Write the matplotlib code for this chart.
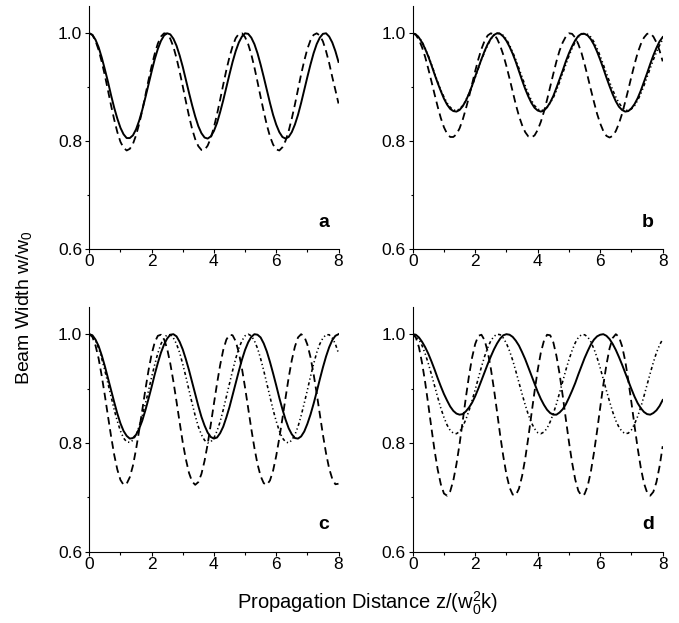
import matplotlib
matplotlib.use("Agg")
import matplotlib.pyplot as plt
from matplotlib.ticker import MultipleLocator, FormatStrFormatter

plt.rcParams['font.family'] = ['Liberation Sans', 'DejaVu Sans']
plt.rcParams['mathtext.fontset'] = 'custom'
plt.rcParams['mathtext.rm'] = 'Liberation Sans'

# propagation distance samples z/(w0^2 k)
z = [0.0, 0.1, 0.2, 0.3, 0.4, 0.5, 0.6, 0.7, 0.8, 0.9,
     1.0, 1.1, 1.2, 1.3, 1.4, 1.5, 1.6, 1.7, 1.8, 1.9,
     2.0, 2.1, 2.2, 2.3, 2.4, 2.5, 2.6, 2.7, 2.8, 2.9,
     3.0, 3.1, 3.2, 3.3, 3.4, 3.5, 3.6, 3.7, 3.8, 3.9,
     4.0, 4.1, 4.2, 4.3, 4.4, 4.5, 4.6, 4.7, 4.8, 4.9,
     5.0, 5.1, 5.2, 5.3, 5.4, 5.5, 5.6, 5.7, 5.8, 5.9,
     6.0, 6.1, 6.2, 6.3, 6.4, 6.5, 6.6, 6.7, 6.8, 6.9,
     7.0, 7.1, 7.2, 7.3, 7.4, 7.5, 7.6, 7.7, 7.8, 7.9,
     8.0]

# panel a
a_solid = [1.000, .997, .988, .974, .955, .933, .910, .885, .862, .842,
           .825, .813, .806, .806, .811, .822, .838, .858, .881, .905,
           .929, .952, .971, .986, .996, 1.000, .998, .990, .977, .959,
           .938, .914, .890, .867, .846, .828, .815, .807, .805, .809,
           .819, .834, .854, .876, .900, .924, .947, .967, .983, .994,
           1.000, .999, .992, .980, .963, .942, .919, .895, .871, .849,
           .831, .817, .808, .805, .808, .817, .831, .849, .871, .895,
           .919, .942, .963, .980, .992, .999, 1.000, .994, .983, .967,
           .947]
a_dash = [1.000, .997, .986, .969, .947, .922, .894, .866, .840, .817,
          .799, .788, .783, .786, .795, .811, .832, .857, .885, .913,
          .939, .962, .981, .994, 1.000, .999, .990, .975, .954, .929,
          .902, .874, .847, .823, .804, .791, .784, .784, .792, .806,
          .826, .850, .877, .905, .932, .956, .976, .991, .999, 1.000,
          .993, .980, .961, .937, .910, .882, .855, .830, .809, .794,
          .785, .783, .789, .801, .819, .842, .868, .896, .924, .949,
          .971, .987, .997, 1.000, .996, .985, .967, .945, .919, .895,
          .870]

# panel b
b_solid = [1.000, .998, .992, .983, .971, .957, .941, .924, .908, .893,
           .879, .868, .860, .856, .855, .858, .865, .875, .888, .903,
           .920, .936, .952, .967, .980, .990, .997, 1.000, .999, .994,
           .986, .975, .962, .947, .930, .913, .897, .883, .871, .862,
           .857, .855, .857, .863, .872, .884, .899, .915, .931, .948,
           .963, .976, .987, .995, .999, .999, .996, .989, .979, .966,
           .951, .935, .918, .902, .887, .874, .864, .858, .855, .856,
           .861, .869, .880, .894, .910, .926, .943, .959, .973, .985,
           .993]
b_dash = [1.000, .997, .988, .974, .956, .934, .911, .887, .864, .843,
          .826, .814, .808, .808, .813, .824, .840, .860, .882, .906,
          .930, .952, .971, .986, .996, 1.000, .998, .990, .977, .960,
          .939, .916, .892, .868, .847, .830, .817, .809, .807, .811,
          .821, .836, .855, .877, .901, .925, .948, .968, .983, .994,
          1.000, .999, .992, .980, .964, .943, .920, .896, .873, .851,
          .833, .819, .810, .807, .810, .819, .833, .851, .873, .896,
          .920, .943, .964, .980, .992, .999, 1.000, .994, .983, .968,
          .948]
b_dot = [1.000, .998, .993, .984, .972, .958, .943, .926, .910, .895,
         .882, .871, .863, .858, .857, .860, .866, .876, .888, .902,
         .918, .935, .951, .965, .978, .989, .996, 1.000, 1.000, .996,
         .989, .978, .965, .951, .935, .919, .903, .888, .876, .866,
         .860, .857, .858, .863, .871, .881, .894, .910, .926, .942,
         .958, .972, .984, .993, .998, 1.000, .998, .993, .984, .972,
         .958, .942, .926, .910, .895, .882, .871, .863, .858, .857,
         .860, .866, .876, .888, .903, .919, .935, .951, .965, .978,
         .989]

# panel c
c_solid = [1.000, .998, .990, .978, .961, .941, .919, .897, .875, .854,
           .836, .822, .813, .808, .809, .815, .826, .841, .860, .881,
           .903, .926, .947, .966, .981, .992, .999, 1.000, .996, .986,
           .972, .954, .934, .912, .890, .868, .848, .832, .819, .811,
           .808, .810, .818, .830, .847, .866, .888, .910, .932, .953,
           .971, .985, .995, 1.000, .999, .994, .983, .968, .949, .928,
           .906, .883, .862, .843, .827, .816, .809, .808, .812, .821,
           .835, .852, .872, .894, .917, .939, .959, .976, .989, .997,
           1.000]
c_dash = [1.000, .995, .979, .955, .923, .887, .849, .812, .778, .751,
          .732, .723, .725, .737, .758, .788, .823, .860, .898, .933,
          .963, .985, .997, .999, .991, .973, .946, .913, .876, .838,
          .801, .770, .745, .729, .723, .728, .743, .767, .798, .834,
          .872, .909, .943, .971, .990, .999, .998, .987, .966, .937,
          .902, .864, .826, .791, .761, .739, .726, .723, .731, .749,
          .776, .809, .845, .883, .920, .952, .977, .994, 1.000, .996,
          .981, .958, .927, .891, .853, .815, .781, .753, .734, .724,
          .725]
c_dot = [1.000, .997, .988, .974, .955, .933, .909, .885, .861, .840,
         .822, .809, .802, .801, .805, .815, .830, .850, .872, .896,
         .921, .944, .965, .982, .993, .999, .999, .993, .982, .966,
         .945, .922, .897, .873, .850, .830, .815, .805, .800, .802,
         .809, .822, .839, .861, .885, .909, .933, .955, .974, .988,
         .997, 1.000, .997, .988, .974, .955, .933, .909, .885, .861,
         .840, .822, .809, .802, .800, .805, .815, .830, .850, .873,
         .897, .922, .945, .966, .982, .993, .999, .999, .993, .982,
         .965]

# panel d
d_solid = [1.000, .999, .994, .986, .976, .964, .950, .935, .919, .904,
           .890, .878, .867, .859, .854, .852, .853, .858, .865, .874,
           .886, .900, .915, .930, .945, .959, .972, .983, .992, .998,
           1.000, .999, .995, .988, .979, .967, .954, .939, .924, .909,
           .894, .881, .870, .861, .855, .852, .852, .856, .862, .871,
           .883, .896, .910, .926, .941, .956, .969, .981, .990, .996,
           .999, 1.000, .997, .991, .982, .971, .958, .944, .929, .914,
           .899, .885, .873, .864, .857, .853, .852, .855, .860, .868,
           .879]
d_dash = [1.000, .994, .976, .947, .911, .870, .827, .786, .751, .724,
          .707, .703, .711, .731, .761, .798, .840, .883, .923, .957,
          .982, .997, .999, .989, .968, .937, .899, .857, .814, .775,
          .742, .718, .705, .704, .716, .739, .771, .810, .853, .895,
          .934, .966, .988, .999, .998, .985, .960, .927, .887, .844,
          .802, .764, .733, .712, .703, .706, .721, .747, .782, .822,
          .865, .907, .944, .974, .993, 1.000, .995, .978, .951, .915,
          .874, .831, .790, .754, .726, .709, .703, .710, .728, .757,
          .794]
d_dot = [1.000, .997, .990, .979, .964, .946, .926, .905, .884, .864,
         .847, .833, .823, .818, .817, .821, .830, .843, .859, .878,
         .898, .919, .940, .959, .975, .988, .996, 1.000, .999, .993,
         .983, .969, .952, .932, .911, .890, .870, .852, .837, .826,
         .819, .817, .820, .827, .839, .854, .872, .892, .913, .934,
         .953, .970, .984, .994, .999, .999, .995, .986, .973, .957,
         .938, .917, .896, .876, .857, .841, .829, .821, .817, .818,
         .824, .835, .849, .866, .886, .907, .928, .948, .966, .980,
         .991]

panel_labels = ['a', 'b', 'c', 'd']
panels = [
    (a_solid, a_dash, None),
    (b_solid, b_dash, b_dot),
    (c_solid, c_dash, c_dot),
    (d_solid, d_dash, d_dot),
]

W, H = 679, 623
fig = plt.figure(figsize=(W / 100, H / 100), dpi=100)

# axes rectangles in pixels: left, right, top(1.05), bottom(0.6)
rects = [
    (89.3, 338.5, 6.3, 249.3),
    (412.7, 662.7, 6.3, 249.3),
    (89.3, 338.5, 307.0, 551.7),
    (412.7, 662.7, 307.0, 551.7),
]

for (l, r, t, b), (s, dsh, dt), lab in zip(rects, panels, panel_labels):
    ax = fig.add_axes([l / W, 1 - b / H, (r - l) / W, (b - t) / H])
    ax.plot(z, s, color='black', lw=1.4)
    ax.plot(z, dsh, color='black', lw=1.3, dashes=(4.2, 2.6))
    if dt is not None:
        ax.plot(z, dt, color='black', lw=1.15, dashes=(2.0, 1.7, 0.8, 1.7, 0.8, 1.7))
    ax.set_xlim(0, 8)
    ax.set_ylim(0.6, 1.05)
    for sp in ('top', 'right'):
        ax.spines[sp].set_visible(False)
    for sp in ('left', 'bottom'):
        ax.spines[sp].set_linewidth(0.8)
    ax.xaxis.set_major_locator(MultipleLocator(2))
    ax.xaxis.set_minor_locator(MultipleLocator(1))
    ax.yaxis.set_major_locator(MultipleLocator(0.2))
    ax.yaxis.set_minor_locator(MultipleLocator(0.1))
    ax.yaxis.set_major_formatter(FormatStrFormatter('%.1f'))
    ax.tick_params(which='major', direction='out', length=3, width=0.8, labelsize=12.5)
    ax.tick_params(which='minor', direction='out', length=1.8, width=0.8)
    ax.tick_params(axis='x', which='major', pad=0.6)
    ax.tick_params(axis='y', which='major', pad=2.0)
    ax.text(7.52, 0.642, lab, fontsize=14, fontweight='bold', ha='center', va='baseline')

fig.text(25 / W, 1 - 308 / H, r'Beam Width w/w$_\mathregular{0}$', rotation=90,
         fontsize=14, ha='center', va='center')
fig.text(367 / W, 1 - 603 / H, r'Propagation Distance z/(w$_\mathregular{0}^\mathregular{2}$k)',
         fontsize=14.5, ha='center', va='center')

fig.savefig('out.png', dpi=100)
